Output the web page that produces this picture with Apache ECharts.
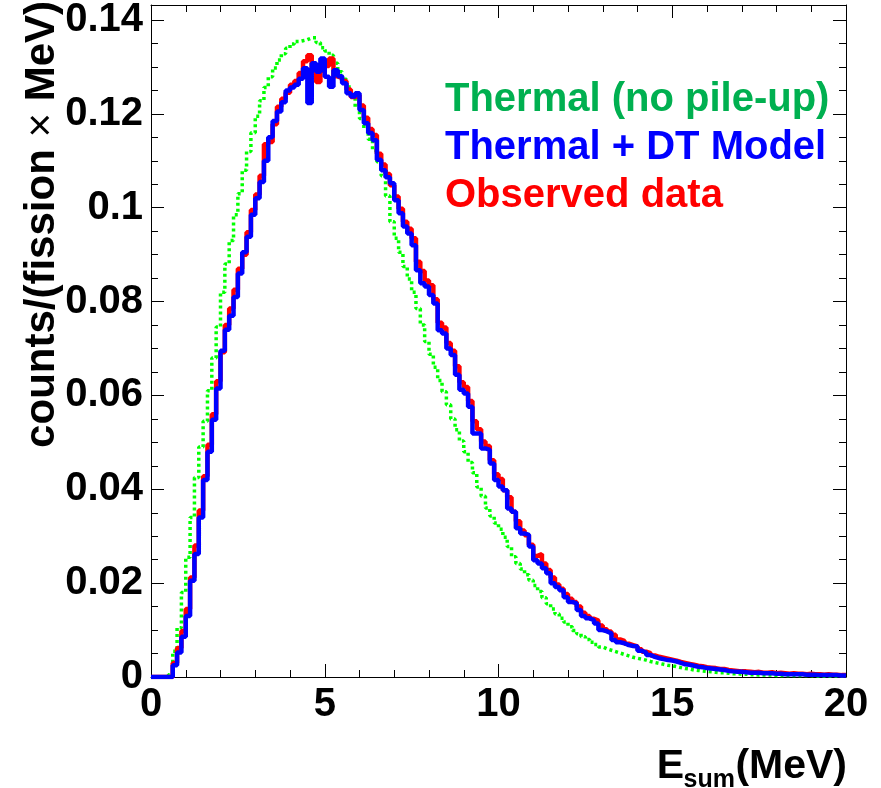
<!DOCTYPE html>
<html><head><meta charset="utf-8">
<script src="https://cdn.jsdelivr.net/npm/echarts@6/dist/echarts.min.js"></script>
<style>html,body{margin:0;padding:0;background:#fff}#c{width:881px;height:788px}</style>
</head><body><div id="c"></div>
<script>
// ---- data ----
const xRange = [0, 20];
const binWidth = 0.125;          // histogram bin width, MeV (160 bins)
const xTickStep = 5;
const yTickStep = 0.02;
const yMax = 0.1432;

// Thermal (no pile-up) - green dotted
const thermalNoPileup = [
  0,0,0,0,0.0005,0.0055,0.0105,0.0180,
  0.0255,0.0340,0.0425,0.0490,0.0545,0.0610,0.0680,0.0746,
  0.0820,0.0880,0.0930,0.0985,0.1030,0.1080,0.1120,0.1160,
  0.1195,0.1228,0.1256,0.1279,0.1298,0.1315,0.1328,0.1340,
  0.1349,0.1354,0.1356,0.1358,0.1362,0.1362,0.1352,0.1341,
  0.1334,0.1325,0.1308,0.1290,0.1274,0.1257,0.1237,0.1214,
  0.1190,0.1168,0.1146,0.1122,0.1098,0.1068,0.1025,0.0970,
  0.0935,0.0905,0.0875,0.0848,0.0820,0.0785,0.0750,0.0715,
  0.0688,0.0660,0.0632,0.0608,0.0580,0.0550,0.0527,0.0503,
  0.0480,0.0457,0.0435,0.0405,0.0385,0.0360,0.0343,0.0328,
  0.0315,0.0298,0.0278,0.0256,0.0242,0.0230,0.0218,0.0206,
  0.0195,0.0182,0.0169,0.0156,0.0145,0.0134,0.0125,0.0117,
  0.0107,0.0099,0.0092,0.0086,0.0080,0.0074,0.0069,0.0064,
  0.0060,0.0057,0.0054,0.0051,0.0048,0.0045,0.0042,0.0040,
  0.0038,0.0036,0.0033,0.0031,0.0029,0.0027,0.0025,0.0024,
  0.0022,0.0020,0.0018,0.0017,0.0015,0.0014,0.0013,0.0012,
  0.0011,0.0010,0.0009,0.0009,0.0008,0.0007,0.0007,0.0006,
  0.0006,0.0005,0.0005,0.0004,0.0004,0.0004,0.0004,0.0003,
  0.0003,0.0003,0.0003,0.0003,0.0003,0.0003,0.0003,0.0003,
  0.0002,0.0002,0.0002,0.0002,0.0002,0.0002,0.0002,0.0002
];

// Thermal + DT Model - blue
const thermalDT = [
  0,0,0,0,0,0.0025,0.0052,0.0086,
  0.0130,0.0205,0.0262,0.0340,0.0420,0.0480,0.0548,0.0615,
  0.0695,0.0740,0.0770,0.0810,0.0860,0.0905,0.0938,0.0985,
  0.1020,0.1055,0.1100,0.1150,0.1185,0.1205,0.1225,0.1250,
  0.1256,0.1262,0.1275,0.1297,0.1223,0.1308,0.1290,0.1318,
  0.1279,0.1258,0.1293,0.1280,0.1265,0.1244,0.1237,0.1244,
  0.1208,0.1180,0.1159,0.1144,0.1102,0.1080,0.1065,0.1052,
  0.1016,0.0988,0.0960,0.0945,0.0920,0.0867,0.0839,0.0832,
  0.0814,0.0796,0.0739,0.0732,0.0700,0.0686,0.0644,0.0612,
  0.0604,0.0576,0.0519,0.0519,0.0487,0.0484,0.0455,0.0420,
  0.0406,0.0398,0.0359,0.0352,0.0317,0.0306,0.0303,0.0278,
  0.0249,0.0242,0.0232,0.0221,0.0200,0.0192,0.0185,0.0170,
  0.0160,0.0157,0.0143,0.0130,0.0125,0.0121,0.0114,0.0100,
  0.0097,0.0093,0.0079,0.0074,0.0072,0.0068,0.0066,0.0065,
  0.0056,0.0052,0.0047,0.0043,0.0040,0.0038,0.0036,0.0035,
  0.0033,0.0030,0.0027,0.0026,0.0024,0.0022,0.0021,0.0019,
  0.0018,0.0017,0.0016,0.0015,0.0013,0.0012,0.0011,0.0011,
  0.0010,0.0009,0.0009,0.0009,0.0008,0.0008,0.0008,0.0007,
  0.0007,0.0006,0.0006,0.0006,0.0006,0.0006,0.0005,0.0005,
  0.0005,0.0004,0.0004,0.0004,0.0004,0.0004,0.0003,0.0003
];

// Observed data - red
const observed = [
  0,0,0,0,0,0.0030,0.0062,0.0098,
  0.0145,0.0212,0.0280,0.0355,0.0428,0.0495,0.0560,0.0630,
  0.0692,0.0750,0.0785,0.0825,0.0870,0.0900,0.0948,0.0995,
  0.1028,0.1068,0.1135,0.1140,0.1178,0.1215,0.1232,0.1245,
  0.1262,0.1270,0.1287,0.1312,0.1325,0.1298,0.1268,0.1292,
  0.1302,0.1318,0.1280,0.1276,0.1270,0.1252,0.1236,0.1240,
  0.1218,0.1192,0.1168,0.1155,0.1115,0.1092,0.1072,0.1048,
  0.1024,0.0998,0.0970,0.0955,0.0935,0.0885,0.0865,0.0845,
  0.0835,0.0805,0.0755,0.0745,0.0712,0.0695,0.0662,0.0628,
  0.0618,0.0588,0.0545,0.0528,0.0502,0.0492,0.0462,0.0432,
  0.0422,0.0398,0.0383,0.0352,0.0332,0.0312,0.0302,0.0282,
  0.0258,0.0262,0.0242,0.0228,0.0212,0.0197,0.0188,0.0177,
  0.0167,0.0160,0.0150,0.0137,0.0130,0.0124,0.0120,0.0110,
  0.0102,0.0097,0.0090,0.0080,0.0077,0.0071,0.0068,0.0065,
  0.0059,0.0054,0.0051,0.0046,0.0043,0.0041,0.0039,0.0037,
  0.0035,0.0032,0.0030,0.0028,0.0026,0.0024,0.0023,0.0021,
  0.0020,0.0019,0.0017,0.0017,0.0015,0.0014,0.0013,0.0012,
  0.0012,0.0011,0.0010,0.0011,0.0009,0.0009,0.0010,0.0008,
  0.0009,0.0008,0.0007,0.0008,0.0007,0.0007,0.0006,0.0007,
  0.0006,0.0006,0.0005,0.0006,0.0005,0.0005,0.0004,0.0004
];

const seriesNames = ['Thermal (no pile-up)', 'Thermal + DT Model', 'Observed data'];
const xTitleParts = ['E', 'sum', '(MeV)'];

// ---- build histogram step points (bin low edges + closing edge) ----
function histPoints(vals) {
  const pts = vals.map((v, i) => [xRange[0] + i * binWidth, v]);
  pts.push([xRange[1], vals[vals.length - 1]]);
  return pts;
}

const FONT = "'Liberation Sans', Arial, Helvetica, sans-serif";
const black = '#000';

function xAx(pos, labels) {
  return {
    type: 'value', position: pos, min: xRange[0], max: xRange[1], interval: xTickStep,
    axisLine: { show: true, onZero: false, lineStyle: { color: black, width: 1 } },
    axisTick: { show: true, inside: true, length: 13, lineStyle: { color: black, width: 1 } },
    minorTick: { show: true, splitNumber: 5, length: 7, lineStyle: { color: black, width: 1 } },
    axisLabel: { show: labels, fontSize: 40, fontWeight: 'bold', fontFamily: FONT, color: black, margin: 8 },
    splitLine: { show: false }, minorSplitLine: { show: false }
  };
}
function yAx(pos, step, len, line, labels) {
  return {
    type: 'value', position: pos, min: 0, max: yMax, interval: step,
    axisLine: { show: line, onZero: false, lineStyle: { color: black, width: 1 } },
    axisTick: { show: true, inside: true, length: len, lineStyle: { color: black, width: 1 } },
    axisLabel: { show: labels, showMaxLabel: false, fontSize: 40, fontWeight: 'bold', fontFamily: FONT, color: black, margin: 8 },
    splitLine: { show: false }
  };
}

const chart = echarts.init(document.getElementById('c'), null, { renderer: 'canvas' });
chart.setOption({
  animation: false,
  backgroundColor: '#fff',
  grid: { left: 151, right: 35, top: 5, bottom: 111, containLabel: false },
  xAxis: [xAx('bottom', true), xAx('top', false)],
  yAxis: [
    yAx('left', yTickStep, 13, true, true),
    yAx('left', yTickStep / 4, 7, false, false),
    yAx('right', yTickStep, 13, true, false),
    yAx('right', yTickStep / 4, 7, false, false)
  ],
  series: [
    { name: seriesNames[0], type: 'line', step: 'end', showSymbol: false, data: histPoints(thermalNoPileup),
      lineStyle: { color: '#00ff00', width: 3.5, type: [3, 3] }, z: 2 },
    { name: seriesNames[2], type: 'line', step: 'end', showSymbol: false, data: histPoints(observed),
      lineStyle: { color: '#ff0000', width: 4.5 }, z: 3 },
    { name: seriesNames[1], type: 'line', step: 'end', showSymbol: false, data: histPoints(thermalDT),
      lineStyle: { color: '#0000ff', width: 4.5 }, z: 4 }
  ],
  graphic: [
    { type: 'text', left: 445, top: 80, style: { text: seriesNames[0], fill: '#00b050', font: "bold 40px " + FONT } },
    { type: 'text', left: 445, top: 128, style: { text: seriesNames[1], fill: '#0000ff', font: "bold 40px " + FONT } },
    { type: 'text', left: 445, top: 176, style: { text: seriesNames[2], fill: '#ff0000', font: "bold 40px " + FONT } },
    { type: 'text', x: 847, y: 767, style: { text: xTitleParts[2], fill: black, font: "bold 41px " + FONT, align: 'right', verticalAlign: 'middle' } },
    { type: 'text', x: 735, y: 780, style: { text: xTitleParts[1], fill: black, font: "bold 25px " + FONT, align: 'right', verticalAlign: 'middle' } },
    { type: 'text', x: 684, y: 767, style: { text: xTitleParts[0], fill: black, font: "bold 41px " + FONT, align: 'right', verticalAlign: 'middle' } },
    { type: 'text', x: 42, y: 1, rotation: Math.PI / 2,
      style: { text: '{b|counts/(fission }{n|×}{b| MeV)}', align: 'right', verticalAlign: 'middle',
        rich: { b: { font: "bold 42px " + FONT, fill: black }, n: { font: "normal 42px " + FONT, fill: black } } } }
  ]
});
</script></body></html>
